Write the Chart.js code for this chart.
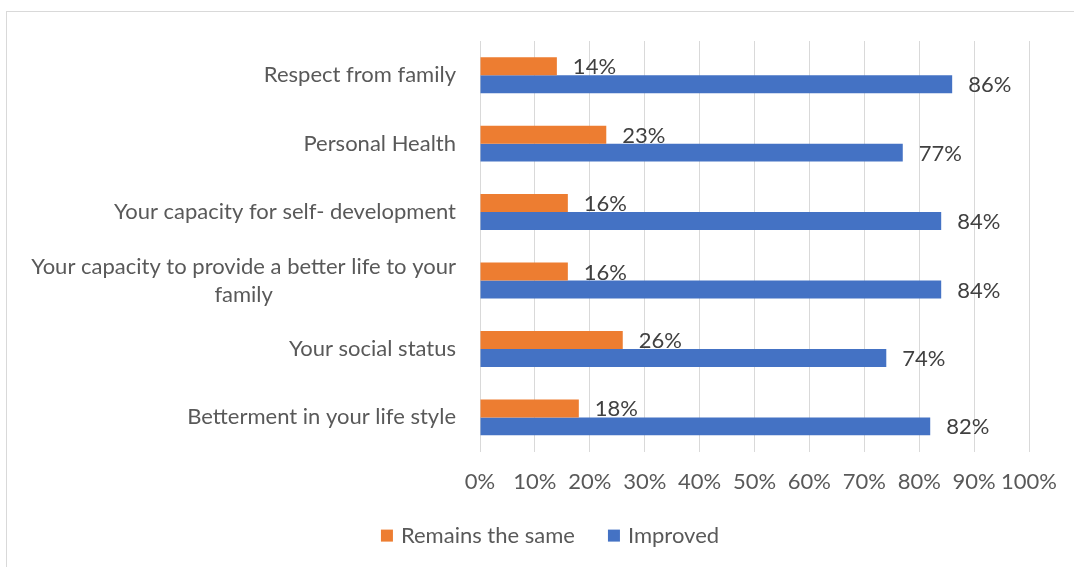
<!DOCTYPE html>
<html>
<head>
<meta charset="utf-8">
<script src="https://cdn.jsdelivr.net/npm/chart.js@4.4.1/dist/chart.umd.min.js"></script>
<style>
  html, body { margin: 0; padding: 0; background: #fff; }
  #frame {
    position: absolute;
    left: 6px; top: 11px;
    width: 1068px; height: 556px;
    box-sizing: border-box;
    border: 1px solid #d9d9d9;
    border-right: none; border-bottom: none;
  }
  #chart { display: block; }
</style>
</head>
<body>
<div id="frame"><canvas id="chart" width="1067" height="555"></canvas></div>
<script>
const categories = [
  "Respect from family",
  "Personal Health",
  "Your capacity for self- development",
  ["Your capacity to provide a better life to your", "family"],
  "Your social status",
  "Betterment in your life style",
];
const remainsSame = [14, 23, 16, 16, 26, 18];
const improved = [86, 77, 84, 84, 74, 82];
const xTicks = [0, 10, 20, 30, 40, 50, 60, 70, 80, 90, 100];

const FONT = "Lato, 'Open Sans', sans-serif";
const FONT_SIZE = 22;
const TEXT = "#595959";

// value labels just past the end of each bar
const barLabels = {
  id: "barLabels",
  afterDatasetsDraw(chart) {
    const ctx = chart.ctx;
    ctx.save();
    ctx.font = `${FONT_SIZE}px ${FONT}`;
    ctx.fillStyle = "#404040";
    ctx.textAlign = "left";
    ctx.textBaseline = "middle";
    chart.data.datasets.forEach((ds, i) => {
      chart.getDatasetMeta(i).data.forEach((bar, j) => {
        ctx.fillText(ds.data[j] + "%", bar.x + 16, bar.y + 1);
      });
    });
    ctx.restore();
  },
};

// category names, each line centred on the same column, right edge near the axis
const categoryLabels = {
  id: "categoryLabels",
  afterDraw(chart) {
    const ctx = chart.ctx;
    const y = chart.scales.y;
    const right = chart.chartArea.left - 24;
    const lineH = 28;
    ctx.save();
    ctx.font = `${FONT_SIZE}px ${FONT}`;
    ctx.fillStyle = TEXT;
    ctx.textBaseline = "middle";
    categories.forEach((label, i) => {
      const lines = Array.isArray(label) ? label : [label];
      const widths = lines.map((l) => ctx.measureText(l).width);
      const maxW = Math.max(...widths);
      const cx = right - maxW / 2;
      const top = y.getPixelForTick(i) - ((lines.length - 1) * lineH) / 2;
      ctx.textAlign = "center";
      lines.forEach((l, k) => ctx.fillText(l, cx, top + k * lineH));
    });
    ctx.restore();
  },
};

// legend row under the axis: square swatch, label, wide gap to the next one
const legendRow = {
  id: "legendRow",
  afterDraw(chart) {
    const ctx = chart.ctx;
    const box = 12, gap = 8, spacing = 33;
    ctx.save();
    ctx.font = `${FONT_SIZE}px ${FONT}`;
    ctx.textBaseline = "middle";
    ctx.textAlign = "left";
    const items = chart.data.datasets.map((ds) => ({
      text: ds.label,
      color: ds.backgroundColor,
      w: box + gap + ctx.measureText(ds.label).width,
    }));
    const total = items.reduce((s, it) => s + it.w, 0) + spacing * (items.length - 1);
    const cy = chart.chartArea.bottom + 84;
    let x = chart.chartArea.left + 70 - total / 2;
    items.forEach((it) => {
      ctx.fillStyle = it.color;
      ctx.fillRect(x, cy - box / 2, box, box);
      ctx.fillStyle = TEXT;
      ctx.fillText(it.text, x + box + gap, cy);
      x += it.w + spacing;
    });
    ctx.restore();
  },
};

new Chart(document.getElementById("chart"), {
  type: "bar",
  data: {
    labels: categories,
    datasets: [
      {
        label: "Remains the same",
        data: remainsSame,
        backgroundColor: "#ED7D31",
        categoryPercentage: 0.525,
        barPercentage: 1,
      },
      {
        label: "Improved",
        data: improved,
        backgroundColor: "#4472C4",
        categoryPercentage: 0.525,
        barPercentage: 1,
      },
    ],
  },
  options: {
    indexAxis: "y",
    responsive: false,
    animation: false,
    layout: {
      padding: { top: 29, right: 34, bottom: 55, left: 0 },
    },
    plugins: {
      legend: { display: false },
      tooltip: { enabled: false },
    },
    scales: {
      x: {
        min: 0,
        max: 100,
        afterBuildTicks: (scale) => {
          scale.ticks = xTicks.map((v) => ({ value: v }));
        },
        grid: { color: "#d9d9d9", lineWidth: 1, drawTicks: false },
        border: { display: false },
        ticks: {
          padding: 17,
          maxRotation: 0,
          autoSkip: false,
          color: TEXT,
          font: { family: FONT, size: FONT_SIZE },
          callback: (v) => v + "%",
        },
      },
      y: {
        grid: { display: false },
        border: { display: false },
        ticks: { display: false },
        afterFit: (scale) => {
          scale.width = 473;
        },
      },
    },
  },
  plugins: [barLabels, categoryLabels, legendRow],
});
</script>
</body>
</html>
